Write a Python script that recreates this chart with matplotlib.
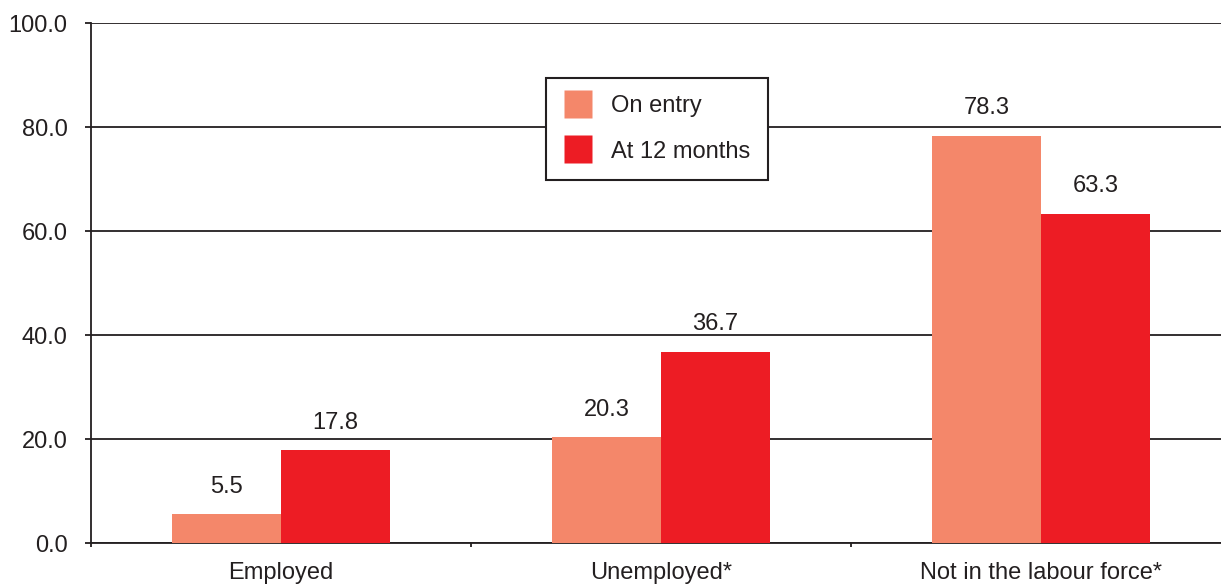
import matplotlib
matplotlib.use('Agg')
import matplotlib.pyplot as plt
from matplotlib.lines import Line2D
import numpy as np

# Data
categories = ['Employed', 'Unemployed*', 'Not in the labour force*']
on_entry = [5.5, 20.3, 78.3]
at_12_months = [17.8, 36.7, 63.3]
series_names = ['On entry', 'At 12 months']
y_ticks = [0, 20, 40, 60, 80, 100]

COL_ENTRY = '#F4876A'
COL_12M = '#ED1C24'
DARK = '#231F20'

plt.rcParams['font.family'] = ['Liberation Sans', 'DejaVu Sans']

fig = plt.figure(figsize=(12.21, 5.85), dpi=100)
ax = fig.add_axes([91 / 1221, 42 / 585, 1140 / 1221, 520 / 585])

x = np.arange(len(categories))
w = 0.287
b1 = ax.bar(x - w / 2, on_entry, width=w, color=COL_ENTRY, zorder=3)
b2 = ax.bar(x + w / 2, at_12_months, width=w, color=COL_12M, zorder=3)

# value labels above the bars
for bars, vals in ((b1, on_entry), (b2, at_12_months)):
    for bar, v in zip(bars, vals):
        ax.annotate(f'{v:.1f}', (bar.get_x() + bar.get_width() / 2, v),
                    xytext=(0, 20), textcoords='offset points',
                    ha='center', va='center', fontsize=17, color=DARK)

ax.set_xlim(-0.5, 2.5)
ax.set_ylim(0, 100)
ax.set_yticks(y_ticks)
ax.set_yticklabels([f'{t:.1f}' for t in y_ticks])
ax.yaxis.grid(True, color=DARK, linewidth=1.3, zorder=0)
ax.set_axisbelow(True)

ax.set_xticks([-0.5, 0.5, 1.5, 2.5])
ax.set_xticklabels([])
ax.set_xticks(x, minor=True)
ax.set_xticklabels(categories, minor=True, fontsize=17, color=DARK)
ax.tick_params(axis='x', which='minor', length=0, pad=14)
ax.tick_params(axis='x', which='major', length=3, width=1.3, color=DARK)
ax.tick_params(axis='y', length=4, width=1.3, color=DARK, pad=13,
               labelsize=17, labelcolor=DARK)

for s in ('top', 'right'):
    ax.spines[s].set_visible(False)
for s in ('left', 'bottom'):
    ax.spines[s].set_color(DARK)
    ax.spines[s].set_linewidth(1.3)

handles = [Line2D([], [], marker='s', linestyle='none', markersize=20,
                  markerfacecolor=c, markeredgecolor='none')
           for c in (COL_ENTRY, COL_12M)]
leg = fig.legend(handles, series_names, loc='upper left',
                 bbox_to_anchor=(546 / 1221, 1 - 78 / 585),
                 borderaxespad=0, fancybox=False, framealpha=1,
                 edgecolor=DARK, fontsize=17, handlelength=1.3,
                 handletextpad=0.75, borderpad=0.72, labelspacing=1.0)
leg.get_frame().set_linewidth(1.5)
for t in leg.get_texts():
    t.set_color(DARK)

fig.savefig('out.png', dpi=100)
